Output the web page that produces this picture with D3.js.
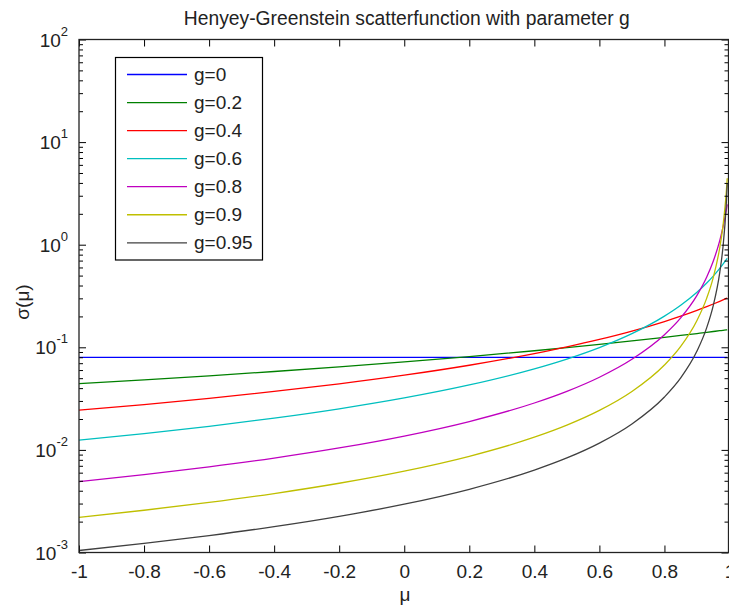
<!DOCTYPE html>
<html>
<head>
<meta charset="utf-8">
<script src="https://cdn.jsdelivr.net/npm/d3@7"></script>
<style>
  body { margin: 0; background: #fff; }
  svg { display: block; font-family: "Liberation Sans", Arial, sans-serif; }
</style>
</head>
<body>
<div id="chart"></div>
<script>
// valeurs
var mu = [-1, -0.8, -0.6, -0.4, -0.2, 0, 0.2, 0.4, 0.5, 0.6, 0.7, 0.8, 0.85, 0.9, 0.93, 0.95, 0.97, 0.98, 0.99, 0.993];
var g0    = [0.0796, 0.0796, 0.0796, 0.0796, 0.0796, 0.0796, 0.0796, 0.0796, 0.0796, 0.0796, 0.0796, 0.0796, 0.0796, 0.0796, 0.0796, 0.0796, 0.0796, 0.0796, 0.0796, 0.0796];
var g02   = [0.04421, 0.04817, 0.05275, 0.05812, 0.06445, 0.07203, 0.08122, 0.09254, 0.09923, 0.1068, 0.1153, 0.1250, 0.1304, 0.1362, 0.1399, 0.1425, 0.1451, 0.1465, 0.1478, 0.1482];
var g04   = [0.02436, 0.02768, 0.03183, 0.03713, 0.04408, 0.05350, 0.06685, 0.08683, 0.1009, 0.1192, 0.1438, 0.1783, 0.2010, 0.2290, 0.2491, 0.2642, 0.2809, 0.2899, 0.2994, 0.3024];
var g06   = [0.01243, 0.01441, 0.01698, 0.02041, 0.02517, 0.03211, 0.04297, 0.06169, 0.07687, 0.09947, 0.1358, 0.2013, 0.2569, 0.3438, 0.4226, 0.4936, 0.5869, 0.6453, 0.7140, 0.7370];
var g08   = [0.004912, 0.005741, 0.006833, 0.008321, 0.01044, 0.01364, 0.01889, 0.02865, 0.03721, 0.05109, 0.07640, 0.1326, 0.1934, 0.3203, 0.4834, 0.6892, 1.097, 1.483, 2.162, 2.473];
var g09   = [0.002204, 0.002581, 0.003078, 0.003757, 0.004730, 0.006209, 0.008660, 0.01329, 0.01742, 0.02424, 0.03707, 0.06718, 0.1021, 0.1826, 0.3015, 0.4781, 0.9338, 1.533, 3.227, 4.450];
var g095  = [0.001046, 0.001225, 0.001462, 0.001786, 0.002250, 0.002957, 0.004130, 0.006354, 0.008346, 0.01165, 0.01791, 0.03280, 0.05033, 0.09187, 0.1556, 0.2549, 0.5346, 0.9520, 2.461, 3.907];

var seriesNames = ["g=0", "g=0.2", "g=0.4", "g=0.6", "g=0.8", "g=0.9", "g=0.95"];
var seriesValues = [g0, g02, g04, g06, g08, g09, g095];
var xTicks = [-1, -0.8, -0.6, -0.4, -0.2, 0, 0.2, 0.4, 0.6, 0.8, 1];
var yDecades = [-3, -2, -1, 0, 1, 2];

// couleurs matlab par defaut
var couleurs = ["#0000ff", "#008000", "#ff0000", "#00bfbf", "#bf00bf", "#bfbf00", "#404040"];

var width = 729, height = 610;
var mLeft = 79, mRight = 728.5, mTop = 39.5, mBottom = 552.5;

var svg = d3.select("#chart").append("svg")
    .attr("width", width)
    .attr("height", height);

var x = d3.scaleLinear().domain([-1, 1]).range([mLeft, mRight + 1]);
var y = d3.scaleLog().domain([1e-3, 1e2]).range([mBottom, mTop]);

svg.append("clipPath").attr("id", "zone")
  .append("rect")
    .attr("x", mLeft).attr("y", mTop)
    .attr("width", mRight - mLeft).attr("height", mBottom - mTop);

// courbes
var ligne = d3.line()
    .x(function(d) { return x(d[0]); })
    .y(function(d) { return y(d[1]); })
    .curve(d3.curveMonotoneX);

svg.append("g").attr("clip-path", "url(#zone)")
  .selectAll("path")
  .data(seriesValues)
  .enter().append("path")
    .attr("d", function(vals) { return ligne(mu.map(function(m, i) { return [m, vals[i]]; })); })
    .attr("fill", "none")
    .attr("stroke", function(d, i) { return couleurs[i]; })
    .attr("stroke-width", 1.3);

// axes (ticks vers l'interieur, style matlab)
var minorTicks = [];
yDecades.forEach(function(e) {
    if (e < 2) for (var k = 2; k <= 9; k++) minorTicks.push(k * Math.pow(10, e));
});
var majorTicks = yDecades.map(function(e) { return Math.pow(10, e); });

var axisBottom = d3.axisBottom(x).tickValues(xTicks).tickSize(-7).tickPadding(12)
    .tickFormat(function(d) { return d3.format("")(d).replace("\u2212", "-"); });
var axisTop = d3.axisTop(x).tickValues(xTicks).tickSize(-7).tickFormat("");
var axisLeft = d3.axisLeft(y).tickValues(majorTicks).tickSize(-7).tickFormat("");
var axisRight = d3.axisRight(y).tickValues(majorTicks).tickSize(-7).tickFormat("");
var minorLeft = d3.axisLeft(y).tickValues(minorTicks).tickSize(-4).tickFormat("");
var minorRight = d3.axisRight(y).tickValues(minorTicks).tickSize(-4).tickFormat("");

function styleAxe(g) {
    g.select(".domain").remove();
    g.attr("font-family", null).attr("font-size", null);
    g.selectAll("line").attr("stroke", "#000");
}

svg.append("g").attr("transform", "translate(0," + mBottom + ")").call(axisBottom).call(styleAxe)
    .selectAll("text").attr("font-size", 19).attr("fill", "#222");
svg.append("g").attr("transform", "translate(0," + mTop + ")").call(axisTop).call(styleAxe);
svg.append("g").attr("transform", "translate(" + mLeft + ",0)").call(axisLeft).call(styleAxe);
svg.append("g").attr("transform", "translate(" + mRight + ",0)").call(axisRight).call(styleAxe);
svg.append("g").attr("transform", "translate(" + mLeft + ",0)").call(minorLeft).call(styleAxe);
svg.append("g").attr("transform", "translate(" + mRight + ",0)").call(minorRight).call(styleAxe);

// cadre
svg.append("rect")
    .attr("x", mLeft).attr("y", mTop)
    .attr("width", mRight - mLeft).attr("height", mBottom - mTop)
    .attr("fill", "none").attr("stroke", "#222").attr("stroke-width", 1.3);

// etiquettes 10^n
var yLab = svg.append("g").selectAll("text")
    .data(yDecades)
    .enter().append("text")
      .attr("x", mLeft - 11)
      .attr("y", function(e) { return y(Math.pow(10, e)) + 7; })
      .attr("text-anchor", "end")
      .attr("fill", "#222");
yLab.append("tspan").attr("font-size", 19).text("10");
yLab.append("tspan").attr("font-size", 13).attr("dy", -11)
    .text(function(e) { return e < 0 ? "-" + Math.abs(e) : e; });

// titre et labels
svg.append("text")
    .attr("x", (mLeft + mRight) / 2 + 3).attr("y", 25)
    .attr("text-anchor", "middle").attr("font-size", 19.3).attr("fill", "#222")
    .text("Henyey-Greenstein scatterfunction with parameter g");

svg.append("text")
    .attr("x", 405).attr("y", 601)
    .attr("text-anchor", "middle").attr("font-size", 19).attr("fill", "#222")
    .text("\u03bc");

svg.append("text")
    .attr("transform", "translate(29,302) rotate(-90)")
    .attr("text-anchor", "middle").attr("font-size", 19).attr("fill", "#222")
    .text("\u03c3(\u03bc)");

// legende
var legende = svg.append("g");
legende.append("rect")
    .attr("x", 115.5).attr("y", 57.5).attr("width", 147).attr("height", 202.5)
    .attr("fill", "#fff").attr("stroke", "#000").attr("stroke-width", 1.2);

var items = legende.selectAll(".item")
    .data(seriesNames)
    .enter().append("g")
      .attr("class", "item")
      .attr("transform", function(d, i) { return "translate(0," + (74.5 + i * 28.05) + ")"; });
items.append("line")
    .attr("x1", 127).attr("x2", 187)
    .attr("stroke", function(d, i) { return couleurs[i]; })
    .attr("stroke-width", 1.3);
items.append("text")
    .attr("x", 194).attr("y", 6.5)
    .attr("font-size", 19).attr("fill", "#222")
    .text(function(d) { return d; });
</script>
</body>
</html>
